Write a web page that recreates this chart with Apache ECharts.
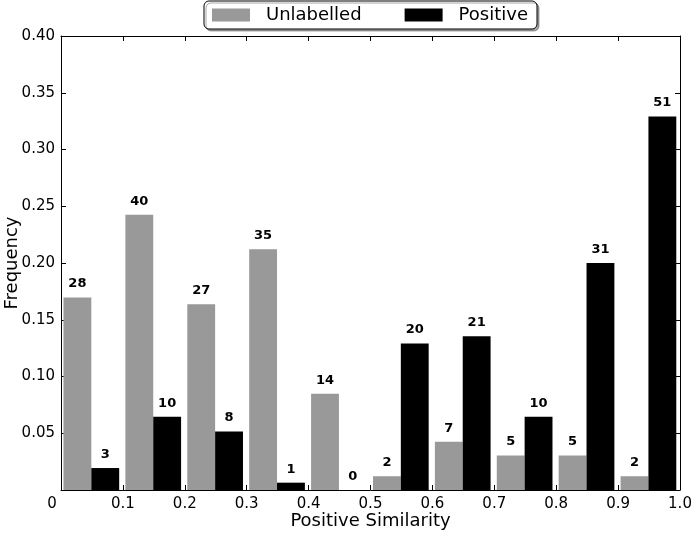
<!DOCTYPE html>
<html><head><meta charset="utf-8">
<script src="https://cdn.jsdelivr.net/npm/echarts@6/dist/echarts.min.js"></script>
<style>html,body{margin:0;padding:0;background:#fff}#c{width:693px;height:533px}</style>
</head><body><div id="c"></div>
<script>
const binStarts = [0.0,0.1,0.2,0.3,0.4,0.5,0.6,0.7,0.8,0.9];
const unlabelledCounts = [28,40,27,35,14,2,7,5,5,2];
const positiveCounts = [3,10,8,1,0,20,21,10,31,51];
const yTicks = [0.05,0.10,0.15,0.20,0.25,0.30,0.35,0.40];
const xTicks = [0,0.1,0.2,0.3,0.4,0.5,0.6,0.7,0.8,0.9,1.0];

const uTotal = unlabelledCounts.reduce((a,b)=>a+b,0);
const pTotal = positiveCounts.reduce((a,b)=>a+b,0);
const uData = binStarts.map((b,i)=>[b, unlabelledCounts[i]/uTotal, unlabelledCounts[i]]);
const pData = binStarts.map((b,i)=>[b, positiveCounts[i]/pTotal, positiveCounts[i]]);

const FONT = 'DejaVu Sans';
function makeRender(offset, width, color){
  return function(params, api){
    const b = api.value(0), v = api.value(1), c = api.value(2);
    const p0 = api.coord([b+offset, v]);
    const p1 = api.coord([b+offset+width, 0]);
    return {type:'group', children:[
      {type:'rect', shape:{x:p0[0], y:p0[1], width:p1[0]-p0[0], height:p1[1]-p0[1]},
       style:{fill:color}},
      {type:'text', style:{text:String(c), x:(p0[0]+p1[0])/2, y:p0[1]-7,
        textAlign:'center', textVerticalAlign:'bottom', fill:'#000',
        font:'bold 13px "DejaVu Sans"'}}
    ]};
  };
}
const chart = echarts.init(document.getElementById('c'));
chart.setOption({
  animation:false,
  textStyle:{fontFamily:FONT},
  grid:{left:61, right:13, top:36, bottom:43, containLabel:false, outerBoundsMode:'none'},
  legend:{
    top:1, left:204,
    itemWidth:38, itemHeight:13, itemGap:43,
    borderColor:'#000', borderWidth:1, borderRadius:5,
    padding:[5,9,5,8],
    backgroundColor:'#fff',
    shadowColor:'rgba(0,0,0,0.35)', shadowOffsetX:2, shadowOffsetY:2, shadowBlur:0,
    textStyle:{fontSize:18, fontFamily:FONT, color:'#000', padding:[0,0,0,11]},
    data:[{name:'Unlabelled', icon:'rect'},{name:'Positive', icon:'rect'}]
  },
  xAxis:[{
    type:'value', min:0, max:1, interval:0.1, position:'bottom',
    name:'Positive Similarity', nameLocation:'middle', nameGap:22, nameMoveOverlap:false,
    nameTextStyle:{fontSize:18, fontFamily:FONT, color:'#000'},
    axisLine:{show:true, onZero:false, lineStyle:{color:'#000', width:1}},
    axisTick:{show:true, inside:true, length:5, lineStyle:{color:'#000'}},
    splitLine:{show:false},
    axisLabel:{fontSize:15, fontFamily:FONT, color:'#000', margin:7,
      formatter:v=> Math.abs(v)<1e-9 ? '{z|0}' : v.toFixed(1),
      rich:{z:{fontSize:15, fontFamily:FONT, color:'#000', padding:[0,18,0,0]}}}
  },{
    type:'value', min:0, max:1, interval:0.1, position:'top',
    axisLine:{show:true, onZero:false, lineStyle:{color:'#000'}},
    axisTick:{show:true, inside:true, length:5, lineStyle:{color:'#000'}},
    axisLabel:{show:false}, splitLine:{show:false}
  }],
  yAxis:[{
    type:'value', min:0, max:0.4, interval:0.05, position:'left',
    name:'Frequency', nameLocation:'middle', nameGap:40, nameMoveOverlap:false,
    nameTextStyle:{fontSize:18, fontFamily:FONT, color:'#000'},
    axisLine:{show:true, onZero:false, lineStyle:{color:'#000'}},
    axisTick:{show:true, inside:true, length:5, lineStyle:{color:'#000'}},
    splitLine:{show:false},
    axisLabel:{fontSize:15, fontFamily:FONT, color:'#000', margin:6,
      formatter:v=> v<1e-9 ? '' : v.toFixed(2)}
  },{
    type:'value', min:0, max:0.4, interval:0.05, position:'right',
    axisLine:{show:true, onZero:false, lineStyle:{color:'#000'}},
    axisTick:{show:true, inside:true, length:5, lineStyle:{color:'#000'}},
    axisLabel:{show:false}, splitLine:{show:false}
  }],
  series:[
    {name:'Unlabelled', type:'custom', xAxisIndex:0, yAxisIndex:0, itemStyle:{color:'#999999'},
     renderItem:makeRender(0.004,0.045,'#999999'), data:uData},
    {name:'Positive', type:'custom', xAxisIndex:0, yAxisIndex:0, itemStyle:{color:'#000000'},
     renderItem:makeRender(0.049,0.045,'#000000'), data:pData}
  ]
});
</script></body></html>
